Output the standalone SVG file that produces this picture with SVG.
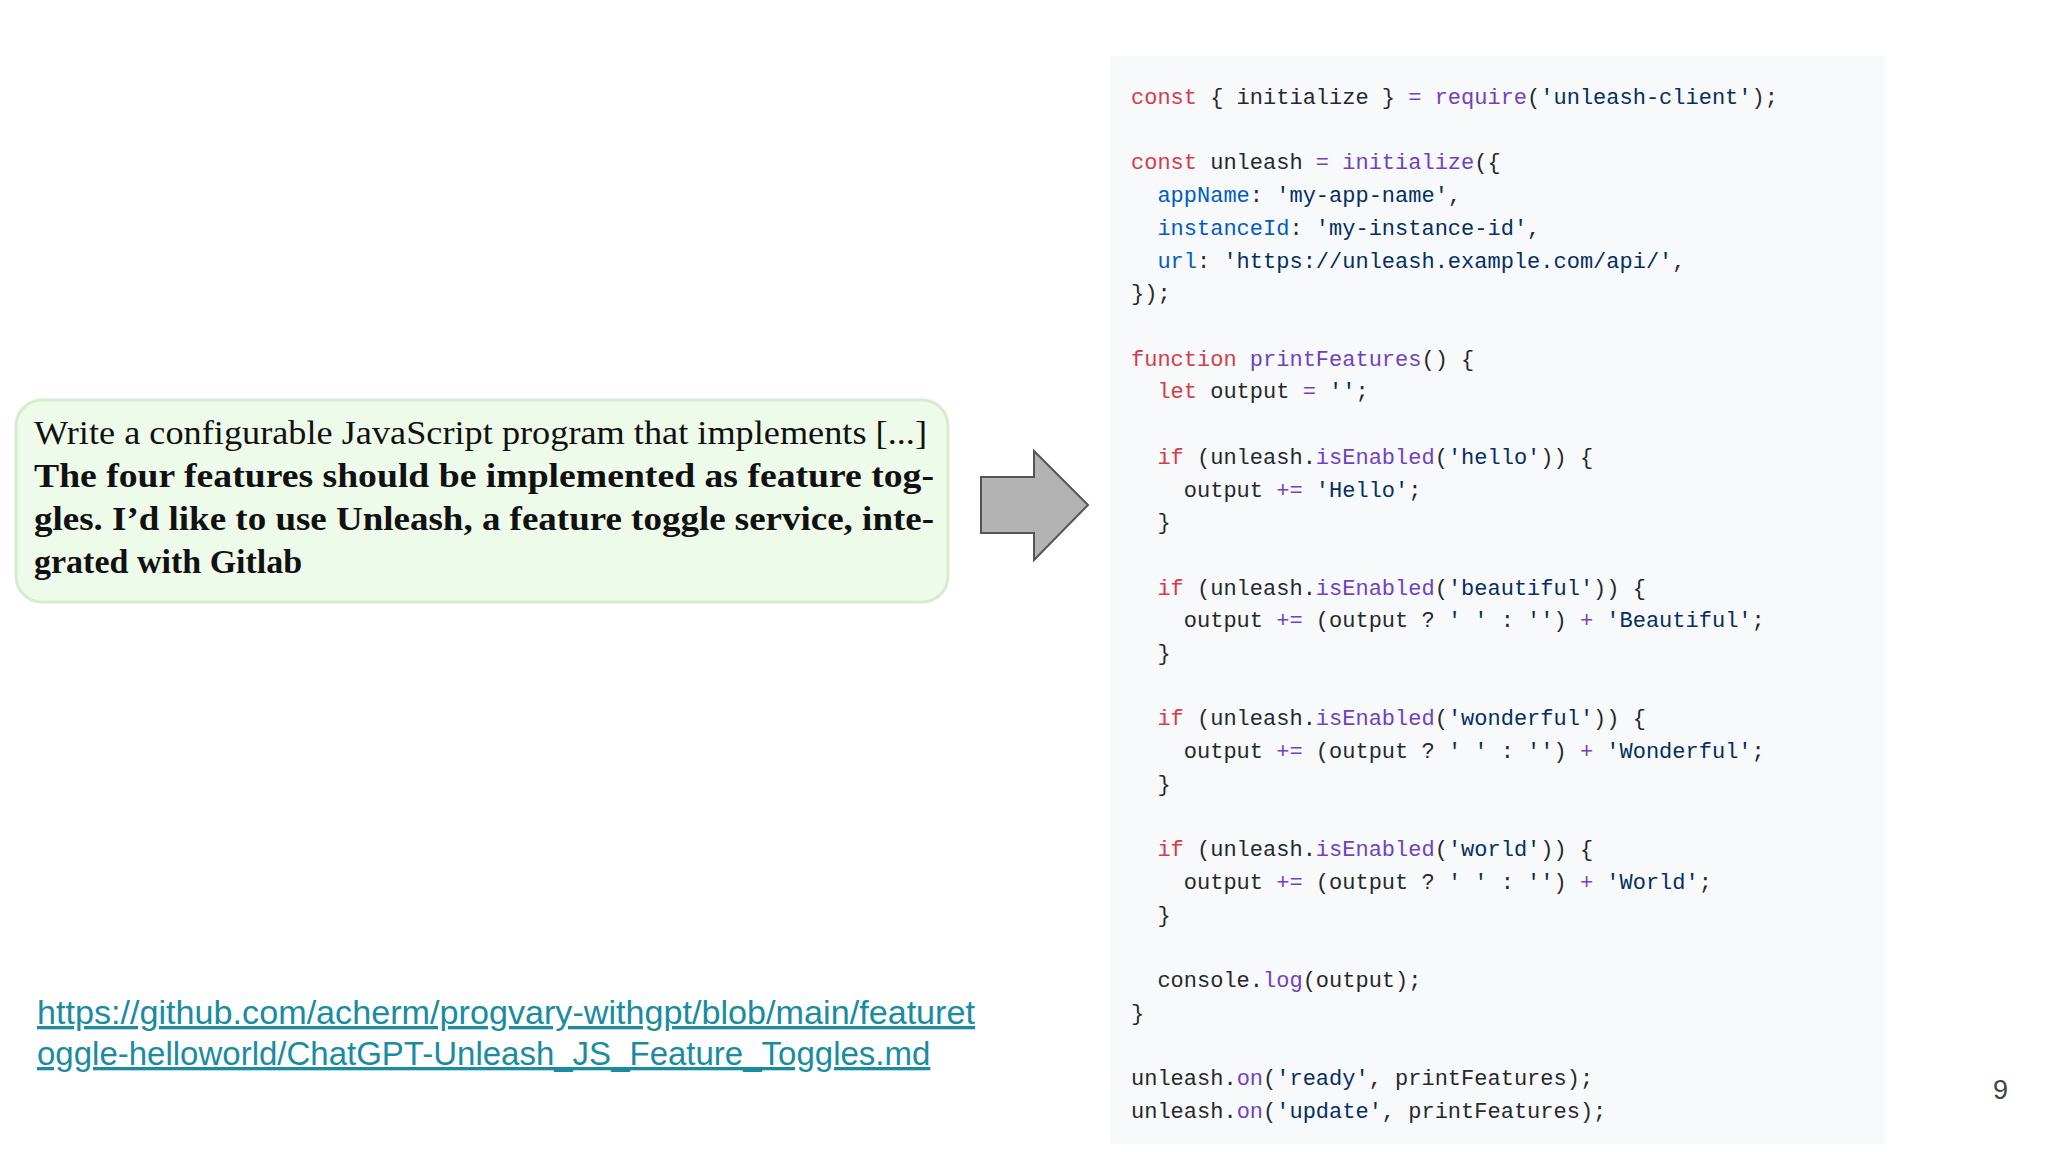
<svg xmlns="http://www.w3.org/2000/svg" width="2048" height="1152" viewBox="0 0 2048 1152">
<style>
.c{font-family:"Liberation Mono",monospace;font-size:22px;fill:#24292e;white-space:pre}
.k{fill:#d73a49}.f{fill:#6f42c1}.s{fill:#032f62}.p{fill:#005cc5}
.q{font-family:"Liberation Serif",serif;font-size:34px;fill:#111}
.b{font-weight:bold}
.l{font-family:"Liberation Sans",Arial,sans-serif;font-size:33px;fill:#1a8ca0;text-decoration:underline}
</style>
<rect width="2048" height="1152" fill="#fff"/>
<g id="prompt">
<rect x="16" y="400" width="932" height="202" rx="26" fill="#eefbea" stroke="#d6ecd0" stroke-width="3"/>
<text class="q" x="34" y="444" textLength="893" lengthAdjust="spacingAndGlyphs">Write a configurable JavaScript program that implements [...]</text>
<text class="q b" x="34" y="487" textLength="900" lengthAdjust="spacingAndGlyphs">The four features should be implemented as feature tog-</text>
<text class="q b" x="34" y="530" textLength="900" lengthAdjust="spacingAndGlyphs">gles. I’d like to use Unleash, a feature toggle service, inte-</text>
<text class="q b" x="34" y="573">grated with Gitlab</text>
</g>
<g id="connectors">
<polygon points="981,477 1034,477 1034,451 1088,505 1034,560 1034,533 981,533" fill="#b3b3b3" stroke="#555" stroke-width="2"/>
</g>
<g id="code">
<rect x="1110" y="56" width="775" height="1088" fill="#f8f9fa"/>
<text class="c" xml:space="preserve">
<tspan x="1131" y="104"><tspan class="k">const</tspan> { initialize } <tspan class="f">=</tspan> <tspan class="f">require</tspan>(<tspan class="s">'unleash-client'</tspan>);</tspan>
<tspan x="1131" y="169"><tspan class="k">const</tspan> unleash <tspan class="f">=</tspan> <tspan class="f">initialize</tspan>({</tspan>
<tspan x="1131" y="202">  <tspan class="p">appName</tspan>: <tspan class="s">'my-app-name'</tspan>,</tspan>
<tspan x="1131" y="235">  <tspan class="p">instanceId</tspan>: <tspan class="s">'my-instance-id'</tspan>,</tspan>
<tspan x="1131" y="268">  <tspan class="p">url</tspan>: <tspan class="s">'https://unleash.example.com/api/'</tspan>,</tspan>
<tspan x="1131" y="300">});</tspan>
<tspan x="1131" y="366"><tspan class="k">function</tspan> <tspan class="f">printFeatures</tspan>() {</tspan>
<tspan x="1131" y="398">  <tspan class="k">let</tspan> output <tspan class="f">=</tspan> <tspan class="s">''</tspan>;</tspan>
<tspan x="1131" y="464">  <tspan class="k">if</tspan> (unleash.<tspan class="f">isEnabled</tspan>(<tspan class="s">'hello'</tspan>)) {</tspan>
<tspan x="1131" y="497">    output <tspan class="f">+=</tspan> <tspan class="s">'Hello'</tspan>;</tspan>
<tspan x="1131" y="529">  }</tspan>
<tspan x="1131" y="595">  <tspan class="k">if</tspan> (unleash.<tspan class="f">isEnabled</tspan>(<tspan class="s">'beautiful'</tspan>)) {</tspan>
<tspan x="1131" y="627">    output <tspan class="f">+=</tspan> (output ? <tspan class="s">' '</tspan> : <tspan class="s">''</tspan>) <tspan class="f">+</tspan> <tspan class="s">'Beautiful'</tspan>;</tspan>
<tspan x="1131" y="660">  }</tspan>
<tspan x="1131" y="725">  <tspan class="k">if</tspan> (unleash.<tspan class="f">isEnabled</tspan>(<tspan class="s">'wonderful'</tspan>)) {</tspan>
<tspan x="1131" y="758">    output <tspan class="f">+=</tspan> (output ? <tspan class="s">' '</tspan> : <tspan class="s">''</tspan>) <tspan class="f">+</tspan> <tspan class="s">'Wonderful'</tspan>;</tspan>
<tspan x="1131" y="791">  }</tspan>
<tspan x="1131" y="856">  <tspan class="k">if</tspan> (unleash.<tspan class="f">isEnabled</tspan>(<tspan class="s">'world'</tspan>)) {</tspan>
<tspan x="1131" y="889">    output <tspan class="f">+=</tspan> (output ? <tspan class="s">' '</tspan> : <tspan class="s">''</tspan>) <tspan class="f">+</tspan> <tspan class="s">'World'</tspan>;</tspan>
<tspan x="1131" y="922">  }</tspan>
<tspan x="1131" y="987">  console.<tspan class="f">log</tspan>(output);</tspan>
<tspan x="1131" y="1020">}</tspan>
<tspan x="1131" y="1085">unleash.<tspan class="f">on</tspan>(<tspan class="s">'ready'</tspan>, printFeatures);</tspan>
<tspan x="1131" y="1118">unleash.<tspan class="f">on</tspan>(<tspan class="s">'update'</tspan>, printFeatures);</tspan>
</text>
</g>
<g id="link">
<text class="l" x="37" y="1024" textLength="938" lengthAdjust="spacingAndGlyphs">https://github.com/acherm/progvary-withgpt/blob/main/featuret</text>
<text class="l" x="37" y="1065">oggle-helloworld/ChatGPT-Unleash_JS_Feature_Toggles.md</text>
</g>
<text x="1993" y="1099" font-family="Liberation Sans,Arial,sans-serif" font-size="27" fill="#444">9</text>
</svg>
